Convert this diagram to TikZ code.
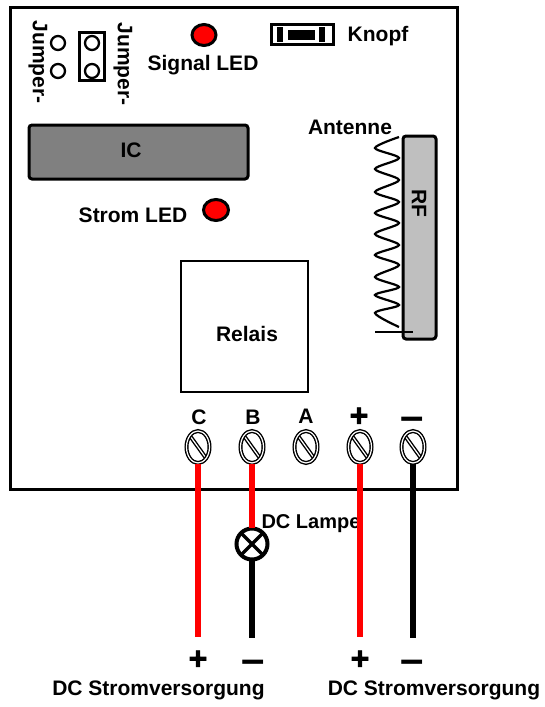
\documentclass[tikz,border=0pt]{standalone}
\usepackage{fontspec}
\setmainfont{Liberation Sans}
\newfontfamily\signfont[BoldFeatures={FakeBold=2}]{Liberation Sans}
\usetikzlibrary{positioning,shapes.geometric}

\begin{document}
\begin{tikzpicture}[
			x=1pt,y=-1pt,
			every node/.style={font=\fontsize{21}{24}\selectfont\bfseries, inner sep=0pt},
			board/.style={rectangle, draw=black, line width=3pt, minimum width=447pt, minimum height=482pt},
			chip/.style={rectangle, rounded corners=3pt, draw=black, line width=3pt},
			relay/.style={rectangle, draw=black, line width=2.5pt, minimum width=127pt, minimum height=131pt},
			led/.style={ellipse, draw=black, fill=red, line width=3pt, minimum width=24pt, minimum height=21pt},
			pin/.style={circle, draw=black, line width=2.3pt, minimum size=14pt},
			screw/.style={ellipse, draw=black, fill=white, line width=1.4pt, double, double distance=1.2pt, minimum width=23pt, minimum height=32pt,
				path picture={\draw[line width=1.4pt, double, double distance=1.2pt] (path picture bounding box.north west) -- (path picture bounding box.south east);}},
			lamp/.style={circle, draw=black, fill=white, line width=4pt, outer sep=1pt, minimum size=31pt,
				path picture={\draw[line width=3.5pt] (path picture bounding box.north west) -- (path picture bounding box.south east);
				\draw[line width=3.5pt] (path picture bounding box.north east) -- (path picture bounding box.south west);}},
			sign/.style={font=\fontsize{32}{32}\selectfont\signfont\bfseries},
			dash sign/.style={font=\fontsize{42}{42}\selectfont\bfseries},
			redwire/.style={draw=red, line width=6pt},
			blackwire/.style={draw=black, line width=6pt}
		]
		\useasboundingbox (0,0) rectangle (544,707);

		% Board
		\node (board) [board] at (233.5,248.5) {};

		% Jumpers
		\node (jumperleft) [rotate=-90] at (38,62) {Jumper-};
		\node (pinA) [pin] at (58,43) {};
		\node (pinB) [pin] at (58,71) {};
		\node (jumperbox) [rectangle, draw=black, line width=3pt, minimum width=25pt, minimum height=48pt] at (92,56.5) {};
		\node (pinC) [pin] at (92,43) {};
		\node (pinD) [pin] at (92,71) {};
		\node (jumperright) [rotate=-90] at (123,64) {Jumper-};

		% Signal LED and button
		\node (signalled) [led] at (204,35) {};
		\node (signallabel) at (203,65) {Signal LED};
		\node (knopf) [rectangle, draw=black, line width=3pt, minimum width=62pt, minimum height=20pt] at (302,34) {};
		\node (knopfleft) [rectangle, fill=black, minimum width=6pt, minimum height=15pt] at (280,34) {};
		\node (knopfmid) [rectangle, fill=black, minimum width=27pt, minimum height=10pt] at (301.5,34.5) {};
		\node (knopfright) [rectangle, fill=black, minimum width=6pt, minimum height=15pt] at (322,34) {};
		\node (knopflabel) at (378,36) {Knopf};

		% IC and Strom LED
		\node (ic) [chip, fill=gray, minimum width=219pt, minimum height=54pt] at (138.5,152) {};
		\node (iclabel) at (131,150) {IC};
		\node (stromlabel) at (133,215) {Strom LED};
		\node (stromled) [led, minimum width=25pt] at (216,210) {};

		% RF and antenna
		\node (antennelabel) at (350,127) {Antenne};
		\node (rf) [chip, fill=black!25, minimum width=33pt, minimum height=203pt] at (419.5,237.5) {};
		\node (rflabel) [rotate=-90] at (419,203) {RF};
		\draw[line width=2.2pt] plot[smooth, tension=.5] coordinates {(399,137) (375,148) (399,158) (375,169) (399,180) (375,192) (399,202) (375,213) (399,223) (375,234) (399,245) (375,255) (399,265) (375,277) (399,287) (375,295) (399,305) (375,313) (399,327)};
		\draw[line width=2.2pt] (375,332) -- (413,332);

		% Relais
		\node (relais) [relay] at (244.5,326.5) {};
		\node (relaislabel) at (247,334) {Relais};

		% Terminals
		\node (labelC) at (199,417) {C};
		\node (labelB) at (253,417) {B};
		\node (labelA) at (306,416) {A};
		\node (labelplus) [sign] at (359,417) {+};
		\node (labelminus) [dash sign] at (412,424) {–};
		\node (screwC) [screw] at (198,447) {};
		\node (screwB) [screw] at (252,447) {};
		\node (screwA) [screw] at (306,447) {};
		\node (screwplus) [screw] at (360,447) {};
		\node (screwminus) [screw] at (413,447) {};

		% Lower labels
		\node (lampelabel) [font=\fontsize{20}{24}\selectfont\bfseries] at (311,524) {DC Lampe};
		\node (lamp) [lamp] at (252,544) {};
		\coordinate (endC) at (198,637);
		\coordinate (endB) at (252,638);
		\coordinate (endplus) at (360,637);
		\coordinate (endminus) at (413,638);
		\node (plusone) [sign] at (198,660) {+};
		\node (minusone) [dash sign] at (253,667) {–};
		\node (plustwo) [sign] at (360,660) {+};
		\node (minustwo) [dash sign] at (412,667) {–};
		\node (supplyone) at (158.5,690) {DC Stromversorgung};
		\node (supplytwo) at (434,690) {DC Stromversorgung};

		% Connections
		\draw [redwire] (screwC) -- (endC);
		\draw [redwire] (screwB) -- (lamp);
		\draw [blackwire] (lamp) -- (endB);
		\draw [redwire] (screwplus) -- (endplus);
		\draw [blackwire] (screwminus) -- (endminus);

	\end{tikzpicture}
\end{document}
